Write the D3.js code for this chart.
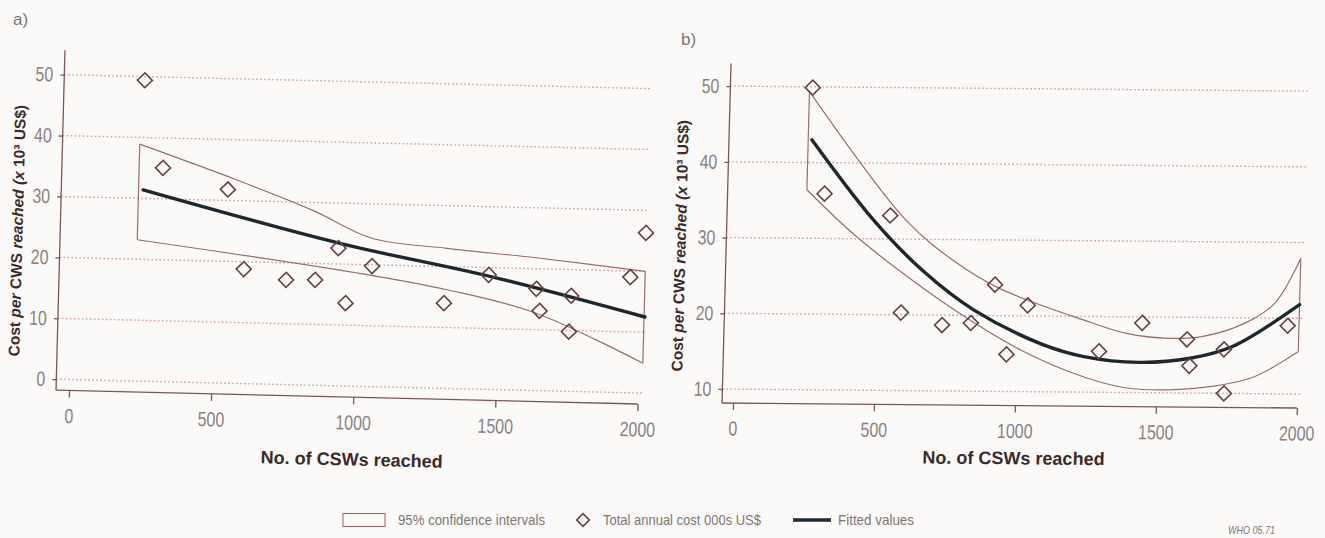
<!DOCTYPE html>
<html>
<head>
<meta charset="utf-8">
<script src="https://cdn.jsdelivr.net/npm/d3@7"></script>
<style>
  html, body { margin: 0; padding: 0; background: #fbfaf8; }
  svg { display: block; }
  .tick text { font-family: "Liberation Sans Narrow", "Liberation Sans", sans-serif; fill: #8a8282; }
  .lbl { font-family: "Liberation Sans Narrow", "Liberation Sans", sans-serif; fill: #7d7575; }
  .ttl { font-family: "Liberation Sans", sans-serif; font-weight: bold; fill: #3a2a2a; }
</style>
</head>
<body>
<svg id="chart" width="1325" height="538"></svg>
<script>
// ---- data ----
var xTicks = [0, 500, 1000, 1500, 2000];

// a) linear fit
var aTicksY = [0, 10, 20, 30, 40, 50];
var aCswX  = [238, 310, 540, 603, 753, 855, 934, 964, 1054, 1310, 1465, 1634, 1647, 1757, 1752, 1963, 2014];
var aCost  = [49.4, 35.1, 31.8, 18.8, 17.2, 17.3, 22.6, 13.6, 19.8, 14.0, 18.8, 16.7, 13.1, 15.7, 9.8, 19.0, 26.3];
var aFitX  = [242, 939, 1476, 2018];
var aFitY  = [31.4, 23.4, 18.5, 12.5];
var aUpX   = [226, 571, 841, 1048, 1316, 1630, 2015];
var aUpY   = [38.9, 33.4, 28.7, 24.4, 23.0, 21.8, 20.0];
var aLoX   = [226, 1004, 1320, 1635, 2015];
var aLoY   = [23.2, 18.6, 16.2, 12.7, 4.9];

// b) quadratic fit
var bTicksY = [10, 20, 30, 40, 50];
var bCswX  = [253, 305, 540, 587, 734, 836, 918, 965, 1036, 1293, 1444, 1604, 1615, 1736, 1740, 1960];
var bCost  = [49.9, 35.9, 33.1, 20.3, 18.7, 19.0, 24.1, 14.9, 21.4, 15.4, 19.2, 17.1, 13.6, 15.8, 10.0, 19.0];
var bFitX  = [255, 476, 662, 846, 1089, 1240, 1436, 1617, 1766, 2000];
var bFitY  = [43.0, 32.7, 25.8, 20.7, 16.3, 14.7, 14.0, 14.6, 16.2, 21.8];
var bUpX   = [242, 596, 781, 934, 1237, 1389, 1540, 1660, 1808, 1913, 2000];
var bUpY   = [49.4, 32.5, 26.9, 23.6, 19.5, 17.8, 17.2, 17.5, 19.3, 22.0, 27.9];
var bLoX   = [242, 402, 571, 785, 1015, 1242, 1394, 1545, 1695, 1844, 2000];
var bLoY   = [36.4, 30.9, 26.0, 20.5, 15.5, 12.0, 10.6, 10.4, 10.9, 12.2, 15.6];

var svg = d3.select("#chart");

var gridCol = "#cc9e9e", axisCol = "#7a5656", ciCol = "#9a6c6c",
    markCol = "#654040", fitCol = "#1c282e";

function zip(xs, ys) { return xs.map(function(v, i) { return [v, ys[i]]; }); }

// the print face is condensed; squeeze the plain sans to match
function squeeze(sel, k) {
  sel.each(function() {
    var w = this.getComputedTextLength();
    d3.select(this).attr("textLength", w * k).attr("lengthAdjust", "spacingAndGlyphs");
  });
}

function panel(c) {
  // the scan is slightly skewed, so each panel gets its own frame
  var o = c.origin, xe = c.xEnd, yt = c.yTop;
  var ex = [xe[0] - o[0], xe[1] - o[1]], ey = [o[0] - yt[0], o[1] - yt[1]];
  var W = Math.hypot(ex[0], ex[1]), H = Math.hypot(ey[0], ey[1]);

  var g = svg.append("g")
    .attr("transform", "matrix(" + [ex[0] / W, ex[1] / W, ey[0] / H, ey[1] / H, yt[0], yt[1]].join(",") + ")");

  var x = d3.scaleLinear().domain([0, 2000]).range([0, W]);
  var y = d3.scaleLinear().domain(c.yDomain).range([H, 0]);

  // dotted grid
  g.selectAll(".grid").data(c.ticksY).join("line")
    .attr("x1", c.yAxisAt).attr("x2", x(c.gridEnd))
    .attr("y1", function(d) { return y(d); }).attr("y2", function(d) { return y(d); })
    .attr("stroke", gridCol).attr("stroke-width", 1.4).attr("stroke-dasharray", "1.6,2.4");

  // axes
  var xa = g.append("g").attr("transform", "translate(0," + (H + c.xAxisOff) + ")")
    .call(d3.axisBottom(x).tickValues(xTicks).tickFormat(d3.format("d")).tickSize(7).tickPadding(11));
  xa.select(".domain").remove();
  xa.selectAll("line").attr("stroke", axisCol).attr("stroke-width", 1.3);
  xa.selectAll("text").attr("font-size", 20.5).call(squeeze, 0.78);

  var ya = g.append("g").attr("transform", "translate(" + c.yAxisAt + ",0)")
    .call(d3.axisLeft(y).tickValues(c.ticksY).tickFormat(d3.format("d")).tickSize(4).tickPadding(7));
  ya.select(".domain").remove();
  ya.selectAll("line").attr("stroke", axisCol).attr("stroke-width", 1.3);
  ya.selectAll("text").attr("font-size", 20.5).call(squeeze, 0.78);

  g.append("line").attr("x1", c.yAxisAt).attr("x2", x(2000))
    .attr("y1", H + c.xAxisOff).attr("y2", H + c.xAxisOff)
    .attr("stroke", axisCol).attr("stroke-width", 1.3);
  g.append("line").attr("x1", c.yAxisAt).attr("x2", c.yAxisAt)
    .attr("y1", y(c.yAxisTop)).attr("y2", H + c.xAxisOff)
    .attr("stroke", axisCol).attr("stroke-width", 1.3);

  // confidence band
  var line = d3.line().x(function(d) { return x(d[0]); }).y(function(d) { return y(d[1]); })
    .curve(d3.curveCatmullRom.alpha(0.5));
  var up = zip(c.upX, c.upY), lo = zip(c.loX, c.loY);
  g.append("path").attr("d", line(up)).attr("fill", "none").attr("stroke", ciCol).attr("stroke-width", 1.2);
  g.append("path").attr("d", line(lo)).attr("fill", "none").attr("stroke", ciCol).attr("stroke-width", 1.2);
  [[up[0], lo[0]], [up[up.length - 1], lo[lo.length - 1]]].forEach(function(e) {
    g.append("path").attr("d", d3.line().x(function(d) { return x(d[0]); }).y(function(d) { return y(d[1]); })(e))
      .attr("fill", "none").attr("stroke", ciCol).attr("stroke-width", 1.2);
  });

  // fitted values
  g.append("path").attr("d", line(zip(c.fitX, c.fitY)))
    .attr("fill", "none").attr("stroke", fitCol).attr("stroke-width", 3.4).attr("stroke-linecap", "round");

  // observed costs
  g.selectAll(".pt").data(zip(c.ptX, c.ptY)).join("path")
    .attr("d", d3.symbol(d3.symbolSquare, 112))
    .attr("transform", function(d) { return "translate(" + x(d[0]) + "," + y(d[1]) + ") rotate(45)"; })
    .attr("fill", "none").attr("stroke", markCol).attr("stroke-width", 1.6);

  // axis titles
  g.append("text").attr("class", "ttl").attr("font-size", 18)
    .attr("x", x(1000)).attr("y", H + c.xTitleOff).attr("dy", "0.35em").attr("text-anchor", "middle")
    .text("No. of CSWs reached");

  var yt2 = g.append("text").attr("class", "ttl").attr("font-size", 15.5)
    .attr("text-anchor", "middle").attr("dy", "0.35em")
    .attr("transform", "translate(" + c.yTitleAt[0] + "," + c.yTitleAt[1] + ") rotate(-90)");
  yt2.append("tspan").text("Cost ");
  yt2.append("tspan").attr("font-style", "italic").text("per");
  yt2.append("tspan").text(" CWS ");
  yt2.append("tspan").attr("font-style", "italic").text("reached (x");
  yt2.append("tspan").text(" 10\u00B3 US$)");
}

panel({
  origin: [69.3, 379.5], xEnd: [637.8, 393], yTop: [77.3, 75],
  yDomain: [0, 50], ticksY: aTicksY, yAxisAt: -13, yAxisTop: 54, xAxisOff: 11, gridEnd: 2022,
  ptX: aCswX, ptY: aCost, fitX: aFitX, fitY: aFitY, upX: aUpX, upY: aUpY, loX: aLoX, loY: aLoY,
  xTitleOff: 73, yTitleAt: [-56, 157]
});

panel({
  origin: [733.4, 389.1], xEnd: [1297.2, 394], yTop: [741.4, 86.2],
  yDomain: [10, 50], ticksY: bTicksY, yAxisAt: -11, yAxisTop: 53, xAxisOff: 14, gridEnd: 2015,
  ptX: bCswX, ptY: bCost, fitX: bFitX, fitY: bFitY, upX: bUpX, upY: bUpY, loX: bLoX, loY: bLoY,
  xTitleOff: 66.5, yTitleAt: [-57, 160]
});

// panel letters
svg.append("text").attr("class", "lbl").attr("font-size", 17).attr("x", 13).attr("y", 25).text("a)");
svg.append("text").attr("class", "lbl").attr("font-size", 17).attr("x", 681).attr("y", 45).text("b)");

// legend
var lg = svg.append("g").attr("class", "lbl").attr("font-size", 15);
lg.append("rect").attr("x", 343).attr("y", 513.5).attr("width", 42).attr("height", 13)
  .attr("fill", "none").attr("stroke", ciCol).attr("stroke-width", 1.1);
lg.append("text").attr("x", 398).attr("y", 520).attr("dy", "0.35em")
  .attr("textLength", 147).attr("lengthAdjust", "spacingAndGlyphs").text("95% confidence intervals");
lg.append("path").attr("d", d3.symbol(d3.symbolSquare, 80))
  .attr("transform", "translate(583,520) rotate(45)")
  .attr("fill", "none").attr("stroke", markCol).attr("stroke-width", 1.6);
lg.append("text").attr("x", 603).attr("y", 520).attr("dy", "0.35em")
  .attr("textLength", 158).attr("lengthAdjust", "spacingAndGlyphs").text("Total annual cost 000s US$");
lg.append("line").attr("x1", 793).attr("x2", 831).attr("y1", 520).attr("y2", 520)
  .attr("stroke", fitCol).attr("stroke-width", 3.5);
lg.append("text").attr("x", 838).attr("y", 520).attr("dy", "0.35em")
  .attr("textLength", 76).attr("lengthAdjust", "spacingAndGlyphs").text("Fitted values");
svg.append("text").attr("class", "lbl").attr("font-size", 11).attr("font-style", "italic")
  .attr("x", 1228).attr("y", 530).attr("dy", "0.35em").attr("fill", "#9a9292")
  .attr("textLength", 47).attr("lengthAdjust", "spacingAndGlyphs").text("WHO 05.71");
</script>
</body>
</html>
